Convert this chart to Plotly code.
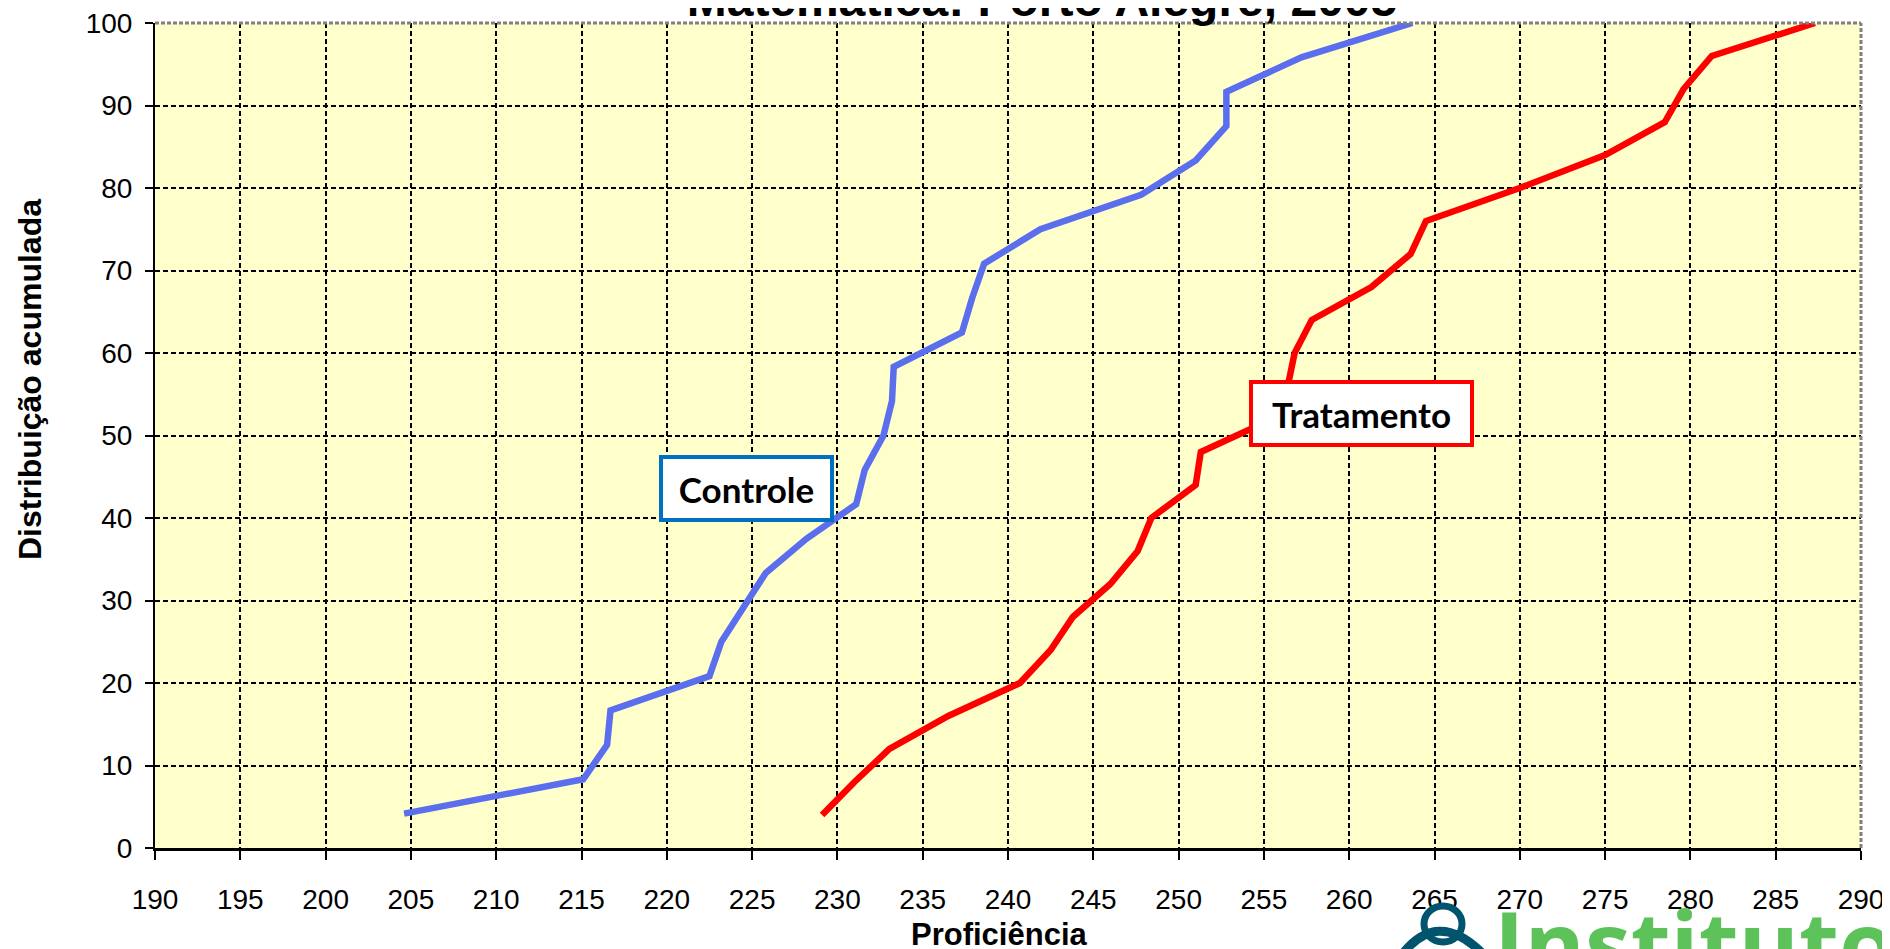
import plotly.graph_objects as go

# ---------------- data ----------------
ctrl_x = [204.6, 215.1, 216.5, 216.7, 222.5, 223.2, 224.5, 225.8, 228.2, 231.1, 231.6, 232.7,
          233.2, 233.3, 237.3, 237.9, 238.6, 241.9, 247.8, 251.0, 252.8, 252.8, 257.2, 263.7]
ctrl_y = [4.17, 8.33, 12.5, 16.67, 20.83, 25.0, 29.17, 33.33, 37.5, 41.67, 45.83, 50.0,
          54.17, 58.33, 62.5, 66.67, 70.83, 75.0, 79.17, 83.33, 87.5, 91.67, 95.83, 100.0]

trat_x = [229.1, 231.0, 233.05, 236.5, 240.7, 242.5, 243.8, 246.0, 247.6, 248.4, 251.0, 251.3,
          255.5, 256.4, 256.8, 257.8, 261.3, 263.6, 264.5, 270.0, 275.0, 278.5, 279.6, 281.25, 287.3]
trat_y = [4, 8, 12, 16, 20, 24, 28, 32, 36, 40, 44, 48,
          52, 56, 60, 64, 68, 72, 76, 80, 84, 88, 92, 96, 100]

x_ticks = list(range(190, 291, 5))
y_ticks = list(range(0, 101, 10))

title_text = "Matemática: Porto Alegre, 2005"
x_title = "Proficiência"
y_title = "Distribuição acumulada"
label_ctrl = "Controle"
label_trat = "Tratamento"
logo_text = "Instituto"

# ---------------- layout geometry ----------------
# the page body has an 8px margin, so the figure is drawn 8px in from the window corner
OFF = 8
W, H = 1890 - OFF, 949 - OFF
L, T = 155 - OFF, 23 - OFF
R = W - (1861 - OFF)
B = H - (848 - OFF)
PW, PH = W - L - R, H - T - B


def px(xs):
    """window pixel x -> paper x"""
    return (xs - OFF - L) / PW


def py(ys):
    """window pixel y -> paper y"""
    return (H - B - (ys - OFF)) / PH


fig = go.Figure()
fig.add_trace(go.Scatter(x=ctrl_x, y=ctrl_y, mode="lines", name=label_ctrl,
                         line=dict(color="#5A6EEE", width=6.5), showlegend=False))
fig.add_trace(go.Scatter(x=trat_x, y=trat_y, mode="lines", name=label_trat,
                         line=dict(color="#FF0000", width=6.5), showlegend=False))

FONT = "Liberation Sans, Arial, sans-serif"
axis_font = dict(family=FONT, size=28, color="black")

fig.update_layout(
    width=W, height=H,
    margin=dict(l=L, r=R, t=T, b=B, autoexpand=False),
    paper_bgcolor="white",
    plot_bgcolor="#FFFFCC",
    title=dict(text="<b>" + title_text + "</b>", x=px(1042), xref="paper", xanchor="center",
               y=1 - 8 / H, yref="container", yanchor="bottom",
               font=dict(family=FONT, size=48, color="black")),
    xaxis=dict(range=[190, 290], tickvals=x_ticks, ticktext=[str(v) for v in x_ticks],
               ticks="outside", ticklen=9, tickwidth=2, tickcolor="black",
               showgrid=True, gridcolor="black", griddash="5px,3px", gridwidth=1.6,
               showline=True, linecolor="black", linewidth=3, zeroline=False,
               tickfont=axis_font, ticklabelstandoff=15, ticklabeloverflow="allow"),
    yaxis=dict(range=[0, 100], tickvals=y_ticks, ticktext=[str(v) for v in y_ticks],
               ticks="outside", ticklen=8, tickwidth=2, tickcolor="black",
               showgrid=True, gridcolor="black", griddash="5px,3px", gridwidth=1.6,
               showline=True, linecolor="black", linewidth=2, zeroline=False,
               tickfont=axis_font, ticklabelstandoff=7, ticklabeloverflow="allow"),
)

# gray dashed plot-area border (top / right)
fig.add_shape(type="line", xref="paper", yref="paper", x0=0, x1=1, y0=1, y1=1,
              line=dict(color="#808080", width=3, dash="4px,2px"))
fig.add_shape(type="line", xref="paper", yref="paper", x0=1, x1=1, y0=0, y1=1,
              line=dict(color="#808080", width=3, dash="4px,2px"))

# axis titles
fig.add_annotation(text="<b>" + x_title + "</b>", xref="paper", yref="paper",
                   x=px(999), y=py(934), xanchor="center", yanchor="middle", showarrow=False,
                   font=dict(family=FONT, size=31, color="black"))
fig.add_annotation(text="<b>" + y_title + "</b>", xref="paper", yref="paper",
                   x=px(30), y=py(380), xanchor="center", yanchor="middle", showarrow=False,
                   textangle=-90,
                   font=dict(family=FONT, size=32, color="black"))

# series labels (boxed)
fig.add_annotation(text="<b>" + label_ctrl + "</b>", xref="paper", yref="paper",
                   x=px(746), y=py(488), xanchor="center", yanchor="middle", showarrow=False,
                   width=167, height=59, borderpad=0, borderwidth=4, bordercolor="#0070C0",
                   bgcolor="white",
                   font=dict(family="Lato, sans-serif", size=35, color="black"))
fig.add_annotation(text="<b>" + label_trat + "</b>", xref="paper", yref="paper",
                   x=px(1361), y=py(413), xanchor="center", yanchor="middle", showarrow=False,
                   width=217, height=59, borderpad=0, borderwidth=4, bordercolor="#FF0000",
                   bgcolor="white",
                   font=dict(family="Lato, sans-serif", size=35, color="black"))

# logo (bottom right, cut by page edge)
fig.add_annotation(text="<b>" + logo_text + "</b>", xref="paper", yref="paper",
                   x=px(1492), y=py(878), xanchor="left", yanchor="top", showarrow=False,
                   font=dict(family="Open Sans, sans-serif", size=92, color="#5EC25A"))
icon_col = "#00546E"
fig.add_shape(type="circle", xref="paper", yref="paper",
              x0=px(1424), x1=px(1462), y0=py(942), y1=py(906),
              line=dict(color=icon_col, width=7))
fig.add_shape(type="path", xref="paper", yref="paper",
              path="M {:.5f},{:.5f} Q {:.5f},{:.5f} {:.5f},{:.5f}".format(
                  px(1398), py(960), px(1436), py(905), px(1484), py(955)),
              line=dict(color=icon_col, width=9))

fig.write_html("out.html")
